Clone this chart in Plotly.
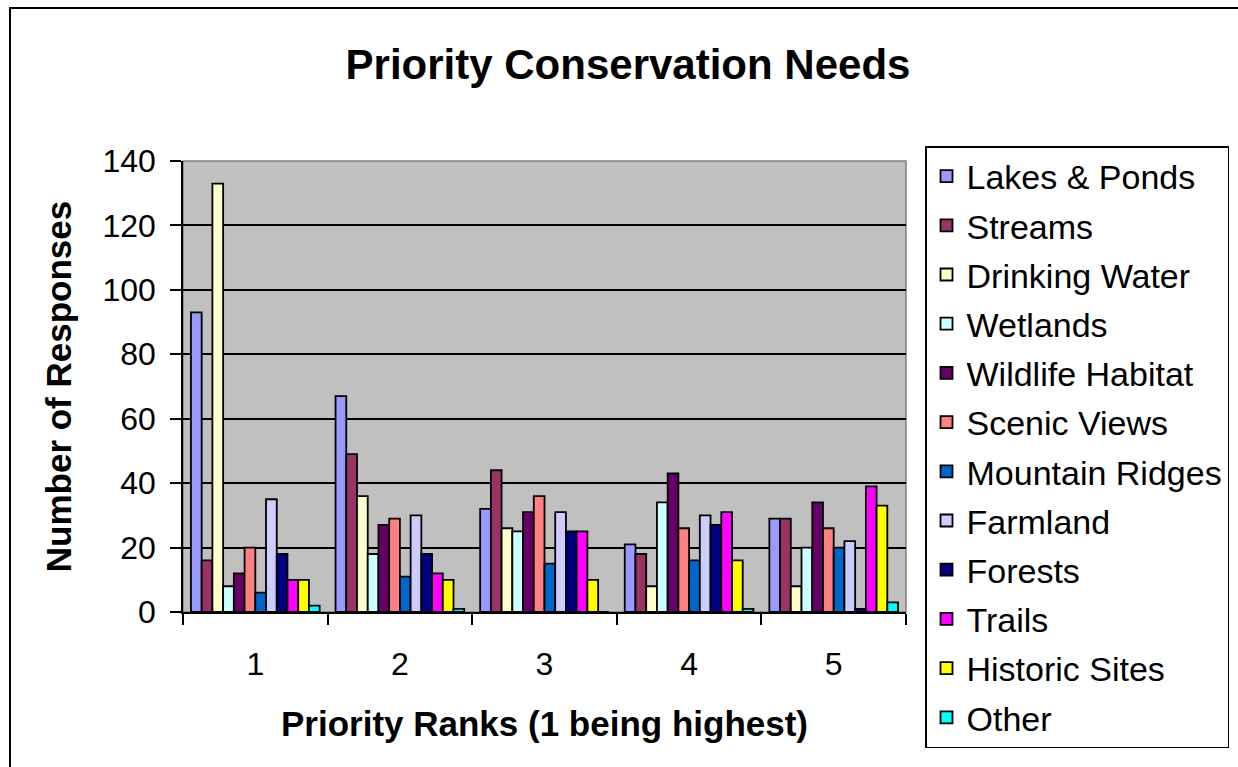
import plotly.graph_objects as go

# Survey results: number of responses per priority rank
ranks = ["1", "2", "3", "4", "5"]

lakes_ponds = [93, 67, 32, 21, 29]
streams = [16, 49, 44, 18, 29]
drinking_water = [133, 36, 26, 8, 8]
wetlands = [8, 18, 25, 34, 20]
wildlife_habitat = [12, 27, 31, 43, 34]
scenic_views = [20, 29, 36, 26, 26]
mountain_ridges = [6, 11, 15, 16, 20]
farmland = [35, 30, 31, 30, 22]
forests = [18, 18, 25, 27, 1]
trails = [10, 12, 25, 31, 39]
historic_sites = [10, 10, 10, 16, 33]
other = [2, 1, 0, 1, 3]

series = [
    ("Lakes & Ponds", lakes_ponds, "#9999FF"),
    ("Streams", streams, "#993366"),
    ("Drinking Water", drinking_water, "#FFFFCC"),
    ("Wetlands", wetlands, "#CCFFFF"),
    ("Wildlife Habitat", wildlife_habitat, "#660066"),
    ("Scenic Views", scenic_views, "#FF8080"),
    ("Mountain Ridges", mountain_ridges, "#0066CC"),
    ("Farmland", farmland, "#CCCCFF"),
    ("Forests", forests, "#000080"),
    ("Trails", trails, "#FF00FF"),
    ("Historic Sites", historic_sites, "#FFFF00"),
    ("Other", other, "#00FFFF"),
]

FONT = "Liberation Sans, Arial, sans-serif"
W, H = 1238, 767
L, R, T, B = 183, 332, 161, 155

fig = go.Figure()
for name, vals, color in series:
    fig.add_trace(go.Bar(
        x=ranks, y=vals, name=name, legendgroup=name,
        marker=dict(color=color, line=dict(color="black", width=1.8)),
    ))

# paper coordinates of the outer chart frame
pw, ph = W - L - R, H - T - B
fx0 = (10 - L) / pw
fx1 = (W + 20 - L) / pw
fy1 = (H - B - 8) / ph
fy0 = (H - B - (H + 20)) / ph

fig.update_layout(
    width=W, height=H,
    margin=dict(l=L, r=R, t=T, b=B, pad=0),
    paper_bgcolor="white",
    plot_bgcolor="#C0C0C0",
    barmode="group",
    bargap=0.11,
    bargroupgap=0,
    font=dict(family=FONT, color="black"),
    title=dict(
        text="<b>Priority Conservation Needs</b>",
        font=dict(size=42, family=FONT, color="black"),
        x=628 / W, xref="container", xanchor="center",
        y=1 - 64 / H, yref="container", yanchor="middle",
    ),
    legend=dict(
        x=925 / W, xref="container", xanchor="left",
        y=1 - 146 / H, yref="container", yanchor="top",
        traceorder="grouped", tracegroupgap=2,
        maxheight=640,
        font=dict(size=34, family=FONT, color="black"),
        bordercolor="black", borderwidth=1.5, bgcolor="white",
    ),
    xaxis=dict(
        type="category",
        tickson="boundaries",
        ticks="outside", ticklen=11, tickwidth=1.5, tickcolor="black",
        showline=True, linecolor="black", linewidth=1.5,
        showgrid=False,
        tickfont=dict(size=32, family=FONT, color="black"),
        ticklabelstandoff=23,
        title=dict(text="<b>Priority Ranks (1 being highest)</b>",
                   font=dict(size=35, family=FONT, color="black"),
                   standoff=30),
    ),
    yaxis=dict(
        range=[0, 140], dtick=20,
        ticks="outside", ticklen=11, tickwidth=1.5, tickcolor="black",
        showline=True, linecolor="black", linewidth=1.5,
        showgrid=True, gridcolor="black", gridwidth=1.5,
        zeroline=False,
        tickfont=dict(size=32, family=FONT, color="black"),
        ticklabelstandoff=8,
        title=dict(text="<b>Number of Responses</b>",
                   font=dict(size=35, family=FONT, color="black"),
                   standoff=20),
    ),
    shapes=[
        # plot area edge
        dict(type="rect", xref="paper", yref="paper", x0=0, x1=1, y0=0, y1=1,
             line=dict(color="#808080", width=1.5), layer="below"),
        # outer chart frame
        dict(type="rect", xref="paper", yref="paper", x0=fx0, x1=fx1, y0=fy0, y1=fy1,
             line=dict(color="black", width=2)),
    ],
)

fig.write_html("out.html")
